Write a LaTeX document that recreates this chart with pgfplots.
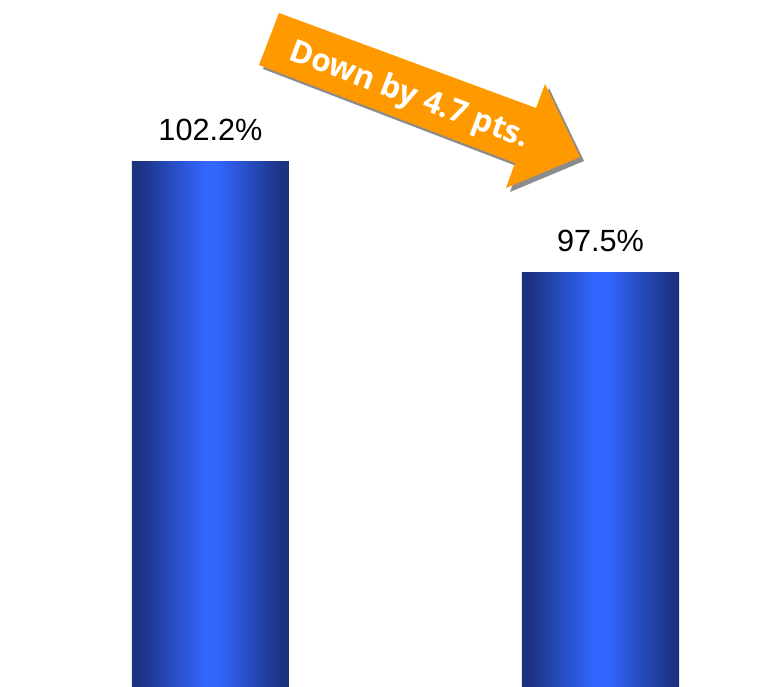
\documentclass[border=0pt]{standalone}
\usepackage{pgfplots}
\pgfplotsset{compat=1.18}
\usepackage{fontspec}
\setmainfont{Liberation Sans}
\newfontfamily\arrowfont{Open Sans}
\definecolor{navybar}{HTML}{1B3280}
\definecolor{brightbar}{HTML}{3366FF}
\definecolor{arroworange}{HTML}{FF9900}
\definecolor{shadowgray}{HTML}{8C8C8C}
\pgfdeclarehorizontalshading{barshade}{100bp}{color(0bp)=(navybar); color(25bp)=(navybar); color(27bp)=(navybar); color(48bp)=(brightbar); color(52bp)=(brightbar); color(73bp)=(navybar); color(75bp)=(navybar); color(100bp)=(navybar)}
\begin{document}
\begin{tikzpicture}
\begin{axis}[
  at={(0,0)}, anchor=south west,
  scale only axis, width=585pt, height=514.5pt,
  xmin=-0.5397, xmax=1.4603, ymin=80, ymax=109.06,
  hide axis,
  ybar, bar width=0.4026, bar shift=0pt,
  every axis plot/.append style={draw=none, shading=barshade, point meta=explicit symbolic,
    nodes near coords,
    nodes near coords style={anchor=base, yshift=16pt, font=\fontsize{23}{27}\selectfont, text=black}},
]
\addplot coordinates {(0,102.2) [102.2\%]};
\addplot coordinates {(1,97.5) [97.5\%]};
\end{axis}
\path[use as bounding box] (0,0) rectangle (585pt,514.5pt);
\begin{scope}[x=0.75pt, y=-0.75pt, shift={(0pt,514.5pt)}]
  \fill[shadowgray, shift={(4,4)}] (279,13) -- (536,108) -- (545,84) -- (580,157) -- (506,188) -- (515,163) -- (259,65) -- cycle;
  \fill[arroworange] (279,13) -- (536,108) -- (545,84) -- (580,157) -- (506,188) -- (515,163) -- (259,65) -- cycle;
  \node[rotate=-20.5, text=white, font=\arrowfont\bfseries\fontsize{23.5}{27}\selectfont, inner sep=0pt] at (409,96) {Down by 4.7 pts.};
\end{scope}
\end{tikzpicture}
\end{document}
